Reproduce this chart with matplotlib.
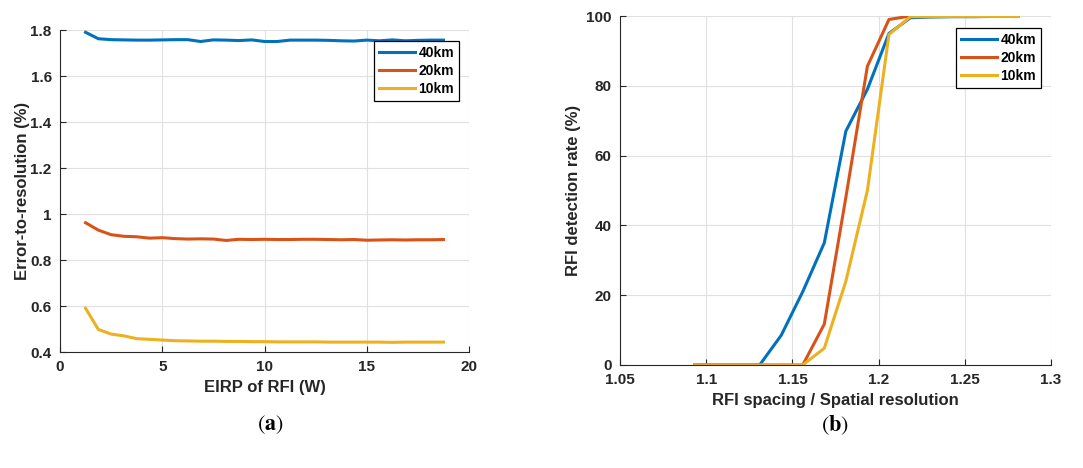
import matplotlib
matplotlib.use('Agg')
from matplotlib import pyplot as plt

# panel (a): error-to-resolution vs EIRP
eirp = [1.25 + 0.625 * i for i in range(29)]
err_40km = [1.790, 1.762, 1.758, 1.757, 1.756, 1.756, 1.757, 1.758, 1.758, 1.750,
            1.757, 1.756, 1.754, 1.757, 1.750, 1.750, 1.756, 1.756, 1.756, 1.755,
            1.753, 1.752, 1.756, 1.753, 1.757, 1.753, 1.755, 1.756, 1.756]
err_20km = [0.962, 0.930, 0.910, 0.903, 0.901, 0.895, 0.897, 0.893, 0.891, 0.892,
            0.891, 0.885, 0.890, 0.889, 0.890, 0.889, 0.889, 0.890, 0.890, 0.889,
            0.888, 0.889, 0.886, 0.887, 0.888, 0.887, 0.888, 0.888, 0.889]
err_10km = [0.590, 0.498, 0.478, 0.470, 0.458, 0.455, 0.452, 0.449, 0.448, 0.447,
            0.447, 0.446, 0.446, 0.445, 0.445, 0.444, 0.444, 0.444, 0.444, 0.443,
            0.443, 0.443, 0.443, 0.443, 0.442, 0.443, 0.443, 0.443, 0.443]

# panel (b): detection rate vs spacing ratio
spacing = [1.0935 + 0.0125 * i for i in range(16)]
det_40km = [0, 0, 0, 0, 8.5, 21, 35, 67, 79, 95, 99.5, 99.7, 99.8, 99.8, 99.9, 100]
det_20km = [0, 0, 0, 0, 0, 0, 11.7, 48, 85.6, 99, 100, 100, 100, 100, 100, 100]
det_10km = [0, 0, 0, 0, 0, 0, 4.8, 24, 50, 94.7, 99.8, 99.8, 99.9, 99.9, 99.9, 99.9]

labels = ['40km', '20km', '10km']
colors = ['#0072BD', '#D95319', '#EDB120']
dark = '#262626'

plt.rcParams['font.family'] = ['Liberation Sans', 'DejaVu Sans']
plt.rcParams['font.weight'] = 'bold'

fig = plt.figure(figsize=(10.83, 4.68), dpi=100)
W, H = 1083.0, 468.0


def style(ax):
    ax.grid(True, color='#e0e0e0', linewidth=0.8)
    ax.set_axisbelow(True)
    for s in ['top', 'right']:
        ax.spines[s].set_visible(False)
    for s in ['left', 'bottom']:
        ax.spines[s].set_color(dark)
        ax.spines[s].set_linewidth(0.8)
    ax.tick_params(direction='in', length=4, width=0.8, colors=dark,
                   labelsize=11, pad=6)
    for t in ax.get_xticklabels() + ax.get_yticklabels():
        t.set_fontweight('bold')


def legend(ax, anchor):
    leg = ax.legend(loc='upper right', bbox_to_anchor=anchor, borderaxespad=0,
                    fancybox=False, framealpha=1, edgecolor='black',
                    handlelength=2.6, handletextpad=0.25,
                    borderpad=0.35, labelspacing=0.3,
                    prop={'weight': 'bold', 'size': 10})
    leg.get_frame().set_linewidth(0.9)
    return leg


# left panel
ax1 = fig.add_axes([60 / W, 1 - 352 / H, 409 / W, 322 / H])
for ys, lab, c in zip([err_40km, err_20km, err_10km], labels, colors):
    ax1.plot(eirp, ys, color=c, lw=2.2, label=lab)
ax1.set_xlim(0, 20)
ax1.set_ylim(0.4, 1.8)
ax1.set_xticks([0, 5, 10, 15, 20])
ax1.set_yticks([0.4, 0.6, 0.8, 1.0, 1.2, 1.4, 1.6, 1.8])
ax1.set_yticklabels(['0.4', '0.6', '0.8', '1', '1.2', '1.4', '1.6', '1.8'])
ax1.set_xlabel('EIRP of RFI (W)', fontsize=12, fontweight='bold', color=dark)
ax1.set_ylabel('Error-to-resolution (%)', fontsize=12, fontweight='bold',
               color=dark, labelpad=0)
style(ax1)
legend(ax1, (1 - 10 / 409, 1 - 11 / 322))

# right panel
ax2 = fig.add_axes([620 / W, 1 - 365 / H, 431 / W, 349 / H])
for ys, lab, c in zip([det_40km, det_20km, det_10km], labels, colors):
    ax2.plot(spacing, ys, color=c, lw=2.2, label=lab)
ax2.set_xlim(1.05, 1.3)
ax2.set_ylim(0, 100)
ax2.set_xticks([1.05, 1.1, 1.15, 1.2, 1.25, 1.3])
ax2.set_xticklabels(['1.05', '1.1', '1.15', '1.2', '1.25', '1.3'])
ax2.set_yticks([0, 20, 40, 60, 80, 100])
ax2.set_xlabel('RFI spacing / Spatial resolution', fontsize=12, fontweight='bold', color=dark)
ax2.set_ylabel('RFI detection rate (%)', fontsize=12, fontweight='bold', color=dark)
style(ax2)
legend(ax2, (1 - 10 / 431, 1 - 12 / 349))

# captions
plt.rcParams['mathtext.fontset'] = 'stix'
fig.text(270 / W, 1 - 425 / H, r'($\mathbf{a}$)', ha='center', va='center',
         fontsize=16, family='STIXGeneral', fontweight='normal')
fig.text(835 / W, 1 - 425 / H, r'($\mathbf{b}$)', ha='center', va='center',
         fontsize=16, family='STIXGeneral', fontweight='normal')

fig.savefig('out.png', dpi=100)
